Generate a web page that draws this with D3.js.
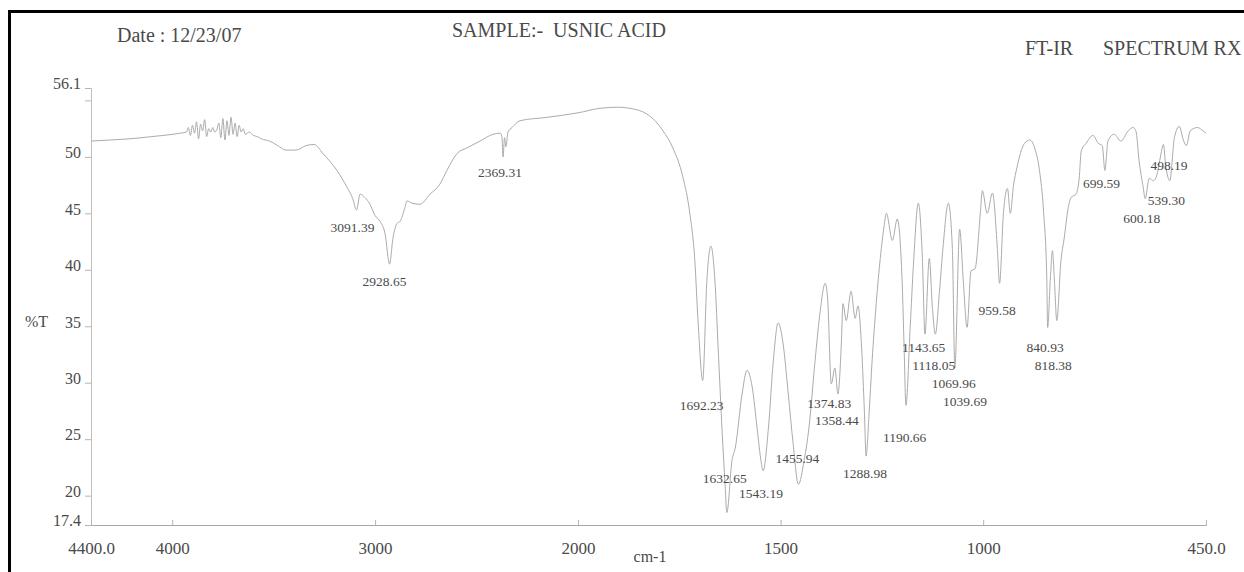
<!DOCTYPE html>
<html>
<head>
<meta charset="utf-8">
<script src="https://cdn.jsdelivr.net/npm/d3@7/dist/d3.min.js"></script>
<style>
  html, body { margin: 0; padding: 0; background: #fff; }
  svg { display: block; }
  text { font-family: "Liberation Serif", "DejaVu Serif", serif; fill: #4a4a4a; }
</style>
</head>
<body>
<svg id="chart" width="1244" height="572"></svg>
<script>
// ---- data ----
const wavenumber = [
  4400, 4300, 4208, 4100, 3996, 3960, 3930, 3920, 3910, 3900, 3890, 3880, 3870, 3860, 3850, 3840,
  3830, 3820, 3810, 3800, 3790, 3780, 3770, 3760, 3750, 3740, 3730, 3720, 3710, 3700, 3690, 3680,
  3670, 3660, 3650, 3640, 3620, 3600, 3580, 3560, 3520, 3480, 3440, 3390, 3340, 3300, 3257, 3188,
  3138, 3110, 3091.39, 3074, 3050, 3025, 3000, 2976, 2951, 2928.65, 2912, 2892, 2877, 2853, 2843,
  2818, 2779, 2729, 2680, 2646, 2596, 2547, 2483, 2419, 2384, 2375, 2369.31, 2362, 2355, 2345, 2325,
  2286, 2153, 2000, 1946, 1900, 1872, 1830, 1790, 1766, 1741, 1724, 1712, 1703, 1692.23, 1682, 1672,
  1662, 1654, 1644, 1637, 1632.65, 1620, 1612, 1595, 1583, 1570, 1558, 1548, 1543.19, 1530, 1518,
  1506, 1494, 1481, 1469, 1455.94, 1442, 1430, 1415, 1402, 1390, 1384, 1374.83, 1366, 1358.44, 1350,
  1346, 1338, 1326, 1316, 1309, 1300, 1293, 1288.98, 1282, 1274, 1264, 1254, 1244, 1239, 1224, 1212,
  1200, 1195, 1190.66, 1180, 1172, 1160, 1150, 1143.65, 1133, 1125, 1118.05, 1108, 1099, 1086, 1076,
  1069.96, 1058, 1049, 1039.69, 1030, 1020, 1007, 1002, 990, 977, 965, 959.58, 950, 940, 933, 925,
  917, 898, 885, 873, 861, 851, 843, 840.93, 834, 829, 824, 818.38, 808, 800, 790, 783, 771, 763, 758,
  746, 729, 716, 706, 699.59, 692, 677, 660, 642, 630, 623, 615, 605, 600.18, 590, 580, 572, 563, 555,
  550, 539.30, 528, 516, 506, 498.19, 489, 471, 457, 450
];
const transmittance = [
  51.4, 51.5, 51.6, 51.8, 52.0, 52.1, 52.2, 52.6, 51.9, 52.8, 52.1, 53.1, 51.6, 52.9, 52.3, 53.3,
  51.8, 52.5, 52.2, 52.6, 52.2, 52.4, 53.0, 51.7, 53.4, 51.5, 53.2, 51.9, 53.5, 52.0, 53.0, 51.8,
  52.8, 52.2, 52.5, 52.0, 52.2, 51.9, 51.8, 51.6, 51.4, 51.0, 50.6, 50.6, 51.0, 51.1, 50.3, 48.8,
  47.3, 46.3, 45.3, 46.7, 46.4, 45.8, 44.8, 44.3, 43.2, 40.5, 42.8, 44.1, 44.3, 45.5, 46.1,
  45.9, 45.8, 46.7, 47.6, 48.8, 50.3, 50.8, 51.4, 52.0, 52.1, 51.8, 50.0, 51.7, 50.9, 52.2, 52.6,
  53.2, 53.5, 53.9, 54.3, 54.4, 54.3, 53.8, 52.3, 50.8, 48.2, 45.0, 41.0, 35.0, 30.2, 39.0, 42.1,
  39.0, 33.0, 25.5, 21.0, 18.5, 23.1, 24.2, 29.0, 31.1, 29.6, 26.0, 23.0, 22.2, 26.0, 31.9,
  35.3, 33.5, 29.0, 24.6, 21.0, 23.1, 26.0, 31.9, 36.4, 38.8, 37.5, 29.9, 31.3, 29.0, 33.5,
  37.0, 35.5, 38.1, 35.7, 36.8, 33.1, 27.3, 23.5, 27.0, 32.0, 37.0, 41.0, 44.0, 45.0, 42.6, 44.5,
  39.0, 33.0, 28.0, 35.0, 40.5, 45.9, 41.0, 34.3, 41.0, 36.5, 34.3, 38.0, 42.0, 45.9, 41.9,
  31.3, 43.6, 39.0, 34.9, 39.9, 40.1, 45.0, 47.0, 45.0, 46.8, 41.9, 38.8, 45.0, 47.2, 45.0, 47.5,
  49.0, 51.2, 51.5, 50.8, 48.8, 45.2, 39.3, 34.9, 39.3, 41.7, 39.0, 35.5, 40.8, 42.8, 45.5, 46.4, 46.7, 48.1, 50.5,
  51.2, 51.9, 51.2, 51.0, 48.8, 51.4, 52.0, 51.4, 52.3, 52.6, 52.3, 49.6, 47.3, 46.3, 48.1, 47.9, 48.3, 49.9, 51.1,
  49.4, 47.9, 51.7, 52.7, 51.5, 51.0, 52.3, 52.6, 52.3, 52.1
];
const peakLabels = ["3091.39", "2928.65", "2369.31", "1692.23", "1632.65", "1543.19", "1455.94",
  "1374.83", "1358.44", "1288.98", "1190.66", "1143.65", "1118.05", "1069.96", "1039.69",
  "959.58", "840.93", "818.38", "699.59", "600.18", "539.30", "498.19"];
// label placement relative to the peak point [dx, dy] (layout only)
const labelNudge = [[-26, 22], [-27, 22], [-25, 20], [-23, 30], [-24, -30], [-24, 27], [-23, -21],
  [-24, 24], [-23, 31], [-23, 22], [-23, 37], [-23, 18], [-23, 36], [-23, 20], [-24, 79],
  [-21, 32], [-21, 25], [-22, 49], [-22, 18], [-22, 24], [-22, 24], [-36, 24]];
const xTickValues = [4400, 4000, 3000, 2000, 1500, 1000, 450];
const xTickLabels = ["4400.0", "4000", "3000", "2000", "1500", "1000", "450.0"];
const yTickValues = [56.1, 55, 50, 45, 40, 35, 30, 25, 20, 17.4];
const yTickLabels = ["56.1", "", "50", "45", "40", "35", "30", "25", "20", "17.4"];

// ---- drawing ----
const svg = d3.select("#chart");
const x = d3.scaleLinear().domain([4400, 2000, 450]).range([91, 578, 1206]);
const y = d3.scaleLinear().domain([17.4, 56.1]).range([525, 88]);

// frame (scan border)
svg.append("line").attr("x1", 9.5).attr("x2", 9.5).attr("y1", 10).attr("y2", 572)
  .attr("stroke", "#000").attr("stroke-width", 3);
svg.append("line").attr("x1", 8).attr("x2", 1244).attr("y1", 11.5).attr("y2", 11.5)
  .attr("stroke", "#000").attr("stroke-width", 3);

// header texts
svg.append("text").attr("x", 117).attr("y", 42).attr("font-size", 20).attr("fill", "#555").text("Date : 12/23/07");
svg.append("text").attr("x", 452).attr("y", 37).attr("font-size", 20).attr("fill", "#555")
  .attr("xml:space", "preserve").text("SAMPLE:-  USNIC ACID");
svg.append("text").attr("x", 1025).attr("y", 55).attr("font-size", 20).attr("fill", "#444").text("FT-IR");
svg.append("text").attr("x", 1103).attr("y", 55).attr("font-size", 20).attr("fill", "#444").text("SPECTRUM RX");

// y axis
const yAxis = d3.axisLeft(y).tickValues(yTickValues)
  .tickFormat((d, i) => yTickLabels[i]).tickSize(6).tickPadding(4);
const gy = svg.append("g").attr("transform", "translate(91,0)").call(yAxis);
gy.select(".domain").attr("stroke", "#c0c0c0");
gy.selectAll(".tick line").attr("stroke", "#b5b5b5");
gy.selectAll(".tick text").attr("font-family", "Liberation Serif, serif").attr("font-size", 16)
  .attr("fill", "#555").attr("dy", "0.05em");
svg.append("text").attr("x", 25).attr("y", 327).attr("font-size", 16).attr("fill", "#555").text("%T");

// x axis
const xAxis = d3.axisBottom(x).tickValues(xTickValues)
  .tickFormat((d, i) => xTickLabels[i]).tickSize(-5).tickPadding(17);
const gx = svg.append("g").attr("transform", "translate(0,525)").call(xAxis);
gx.select(".domain").attr("stroke", "#a8a8a8");
gx.selectAll(".tick line").attr("stroke", "#b5b5b5");
gx.selectAll(".tick text").attr("font-family", "Liberation Serif, serif").attr("font-size", 17)
  .attr("fill", "#444");
svg.append("text").attr("x", 650).attr("y", 562).attr("font-size", 16).attr("fill", "#555")
  .attr("text-anchor", "middle").text("cm-1");

// spectrum
const pts = wavenumber.map((w, i) => [w, transmittance[i]]);
const line = d3.line().x(d => x(d[0])).y(d => y(d[1])).curve(d3.curveMonotoneX);
svg.append("path").datum(pts).attr("d", line)
  .attr("fill", "none").attr("stroke", "#ababab").attr("stroke-width", 1);

// peak labels
peakLabels.forEach((lab, i) => {
  const w = +lab;
  const idx = wavenumber.findIndex(v => Math.abs(v - w) < 0.01);
  const px = x(w), py = y(transmittance[idx]);
  svg.append("text").attr("x", px + labelNudge[i][0]).attr("y", py + labelNudge[i][1])
    .attr("font-size", 13.5).attr("fill", "#555").text(lab);
});
</script>
</body>
</html>
